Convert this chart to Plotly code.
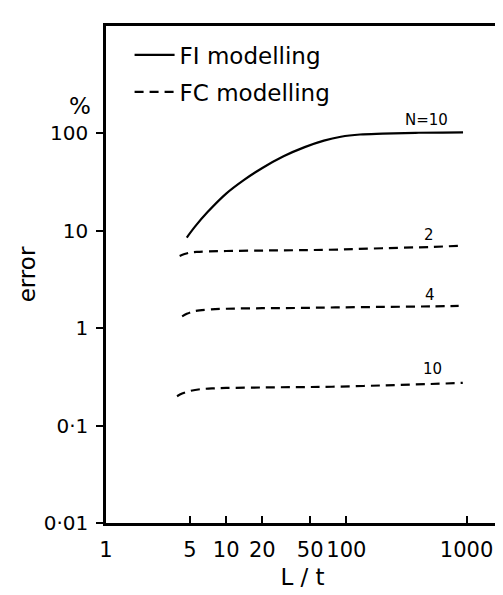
import numpy as np
import plotly.graph_objects as go

# FI modelling, N = 10
fi_x = [4.7, 5.5, 7, 10, 14, 20, 30, 45, 65, 90, 130, 200, 400, 935]
fi_y = [8.5, 11, 15.5, 24, 33, 44, 58, 72, 84, 92, 97, 99, 101, 102]

# FC modelling
fc2_x = [4.1, 4.5, 5.0, 5.7, 7, 10, 20, 40, 86, 200, 500, 910]
fc2_y = [5.5, 5.75, 5.95, 6.05, 6.12, 6.18, 6.25, 6.3, 6.4, 6.6, 6.8, 7.0]
fc4_x = [4.3, 4.7, 5.2, 6, 7.5, 10, 20, 40, 81, 200, 500, 860]
fc4_y = [1.32, 1.4, 1.47, 1.52, 1.56, 1.58, 1.6, 1.61, 1.63, 1.65, 1.67, 1.69]
fc10_x = [3.9, 4.3, 4.9, 6.1, 8, 10, 20, 40, 76, 200, 500, 930]
fc10_y = [0.20, 0.213, 0.225, 0.236, 0.241, 0.243, 0.246, 0.248, 0.25, 0.258, 0.267, 0.274]

x_tickvals = [1, 5, 10, 20, 50, 100, 1000]
x_ticktext = ["1", "5", "10", "20", "50", "100", "1000"]
y_tickvals = [0.01, 0.1, 1, 10, 100]
y_ticktext = ["0·01", "0·1", "1", "10", "100"]

curve_labels = [("N=10", 460, 135), ("2", 490, 9.0), ("4", 500, 2.2), ("10", 525, 0.38)]

FONT = "DejaVu Sans"
fig = go.Figure()
fig.add_trace(go.Scatter(x=fi_x, y=fi_y, mode="lines", name="FI modelling",
                         line=dict(color="black", width=2.2, shape="spline", smoothing=1.0),
                         legendgroup="fi"))
for i, (xs, ys) in enumerate([(fc2_x, fc2_y), (fc4_x, fc4_y), (fc10_x, fc10_y)]):
    fig.add_trace(go.Scatter(x=xs, y=ys, mode="lines", name="FC modelling",
                             line=dict(color="black", width=2.2, dash="9px,6px",
                                       shape="spline", smoothing=1.0),
                             legendgroup="fc", showlegend=(i == 0)))

for txt, lx, ly in curve_labels:
    fig.add_annotation(x=np.log10(lx), y=np.log10(ly), text=txt, showarrow=False,
                       font=dict(family=FONT, size=15, color="black"), xref="x", yref="y")

fig.add_annotation(x=-0.1, y=np.log10(190), xref="paper", yref="y", text="%",
                   showarrow=False, font=dict(family=FONT, size=23, color="black"))

fig.update_layout(
    width=503, height=595,
    margin=dict(l=98, r=12, t=18, b=80),
    paper_bgcolor="white", plot_bgcolor="white",
    font=dict(family=FONT, color="black"),
    legend=dict(x=0.06, y=0.985, xanchor="left", yanchor="top",
                bgcolor="rgba(0,0,0,0)", font=dict(family=FONT, size=23, color="black"),
                tracegroupgap=4, itemwidth=40),
    xaxis=dict(type="log", range=[0, 3.27], tickvals=x_tickvals, ticktext=x_ticktext,
               ticks="inside", ticklen=7, tickwidth=2, tickcolor="black",
               showline=True, linecolor="black", linewidth=2.5, mirror=True,
               showgrid=False, zeroline=False, ticklabelstandoff=6, automargin=False,
               tickfont=dict(family=FONT, size=21, color="black"),
               title=dict(text="L / t", font=dict(family=FONT, size=23, color="black"), standoff=8)),
    yaxis=dict(type="log", range=[-2, 3.1], tickvals=y_tickvals, ticktext=y_ticktext,
               ticks="outside", ticklen=7, tickwidth=2, tickcolor="black",
               showline=True, linecolor="black", linewidth=2.5, mirror=True,
               showgrid=False, zeroline=False, ticklabelstandoff=4, automargin=False,
               tickfont=dict(family=FONT, size=20, color="black"),
               title=dict(text="error", font=dict(family=FONT, size=23, color="black"), standoff=2)),
)

fig.write_html("out.html")
